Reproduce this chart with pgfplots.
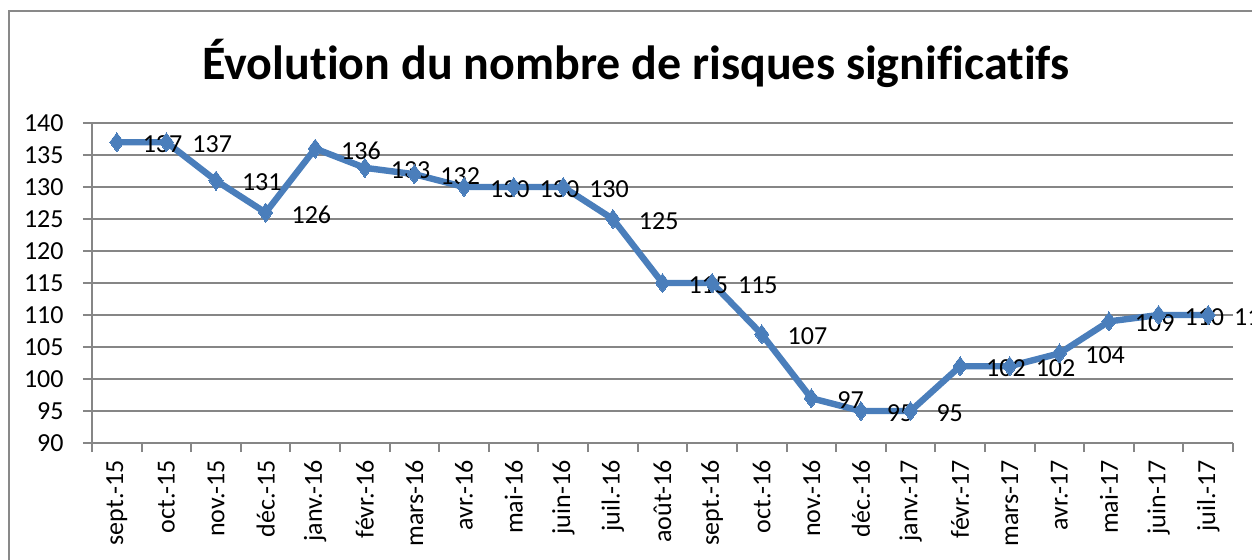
\documentclass[border=0pt]{standalone}
\usepackage{fontspec}
\setmainfont{Carlito}[Ligatures=NoCommon]
\usepackage{pgfplots}
\pgfplotsset{compat=1.18}
\definecolor{gridgray}{RGB}{134,134,134}
\definecolor{framegray}{RGB}{137,137,137}
\definecolor{serieblue}{RGB}{74,126,187}
\begin{document}
\begin{tikzpicture}
% image is 1252x559 px, 1 px = 0.5pt, origin at the axis' lower left corner
\clip (-46pt,-58pt) rectangle (580pt,221.5pt);
\draw[framegray, line width=1pt] (-41.5pt,-80pt) rectangle (620pt,216pt);
\node[font=\bfseries\fontsize{24}{28}\selectfont] at (272pt,190pt)
  {Évolution du nombre de risques significatifs};
\begin{axis}[
    at={(0pt,0pt)}, anchor=south west,
    scale only axis,
    width=570.5pt, height=160pt,
    clip=false,
    xmin=-0.5, xmax=22.5,
    ymin=90, ymax=140,
    ytick={90,95,...,140},
    xtick={0,...,22},
    xticklabels={sept.-15,oct.-15,nov.-15,déc.-15,janv.-16,févr.-16,mars-16,avr.-16,mai-16,juin-16,juil.-16,août-16,sept.-16,oct.-16,nov.-16,déc.-16,janv.-17,févr.-17,mars-17,avr.-17,mai-17,juin-17,juil.-17},
    minor xtick={-0.5,0.5,...,22.5},
    axis x line*=bottom, axis y line*=left,
    axis line style={draw=gridgray, line width=1pt, -},
    ymajorgrids,
    grid style={draw=gridgray, line width=1pt},
    tick align=outside,
    major tick length=4.5pt, minor tick length=4.5pt,
    major x tick style={draw=none},
    minor x tick style={draw=gridgray, line width=1pt},
    major y tick style={draw=gridgray, line width=1pt},
    /pgf/number format/assume math mode=true,
    tick label style={font=\fontsize{13}{15}\selectfont, black},
    xticklabel style={anchor=east, inner sep=0pt, yshift=-4pt, rotate=90},
    yticklabel style={inner sep=0pt, xshift=-9.5pt},
    nodes near coords,
    nodes near coords style={anchor=west, inner sep=0pt, xshift=13pt, yshift=-1pt,
      font=\fontsize{13}{15}\selectfont, black},
  ]
  \addplot[serieblue, line width=3.2pt, mark=diamond*, mark size=4.75pt,
           mark options={solid, fill=serieblue, line width=0pt}]
  coordinates {
    (0,137) (1,137) (2,131) (3,126) (4,136) (5,133) (6,132) (7,130)
    (8,130) (9,130) (10,125) (11,115) (12,115) (13,107) (14,97) (15,95)
    (16,95) (17,102) (18,102) (19,104) (20,109) (21,110) (22,110)
  };
\end{axis}
\end{tikzpicture}
\end{document}
